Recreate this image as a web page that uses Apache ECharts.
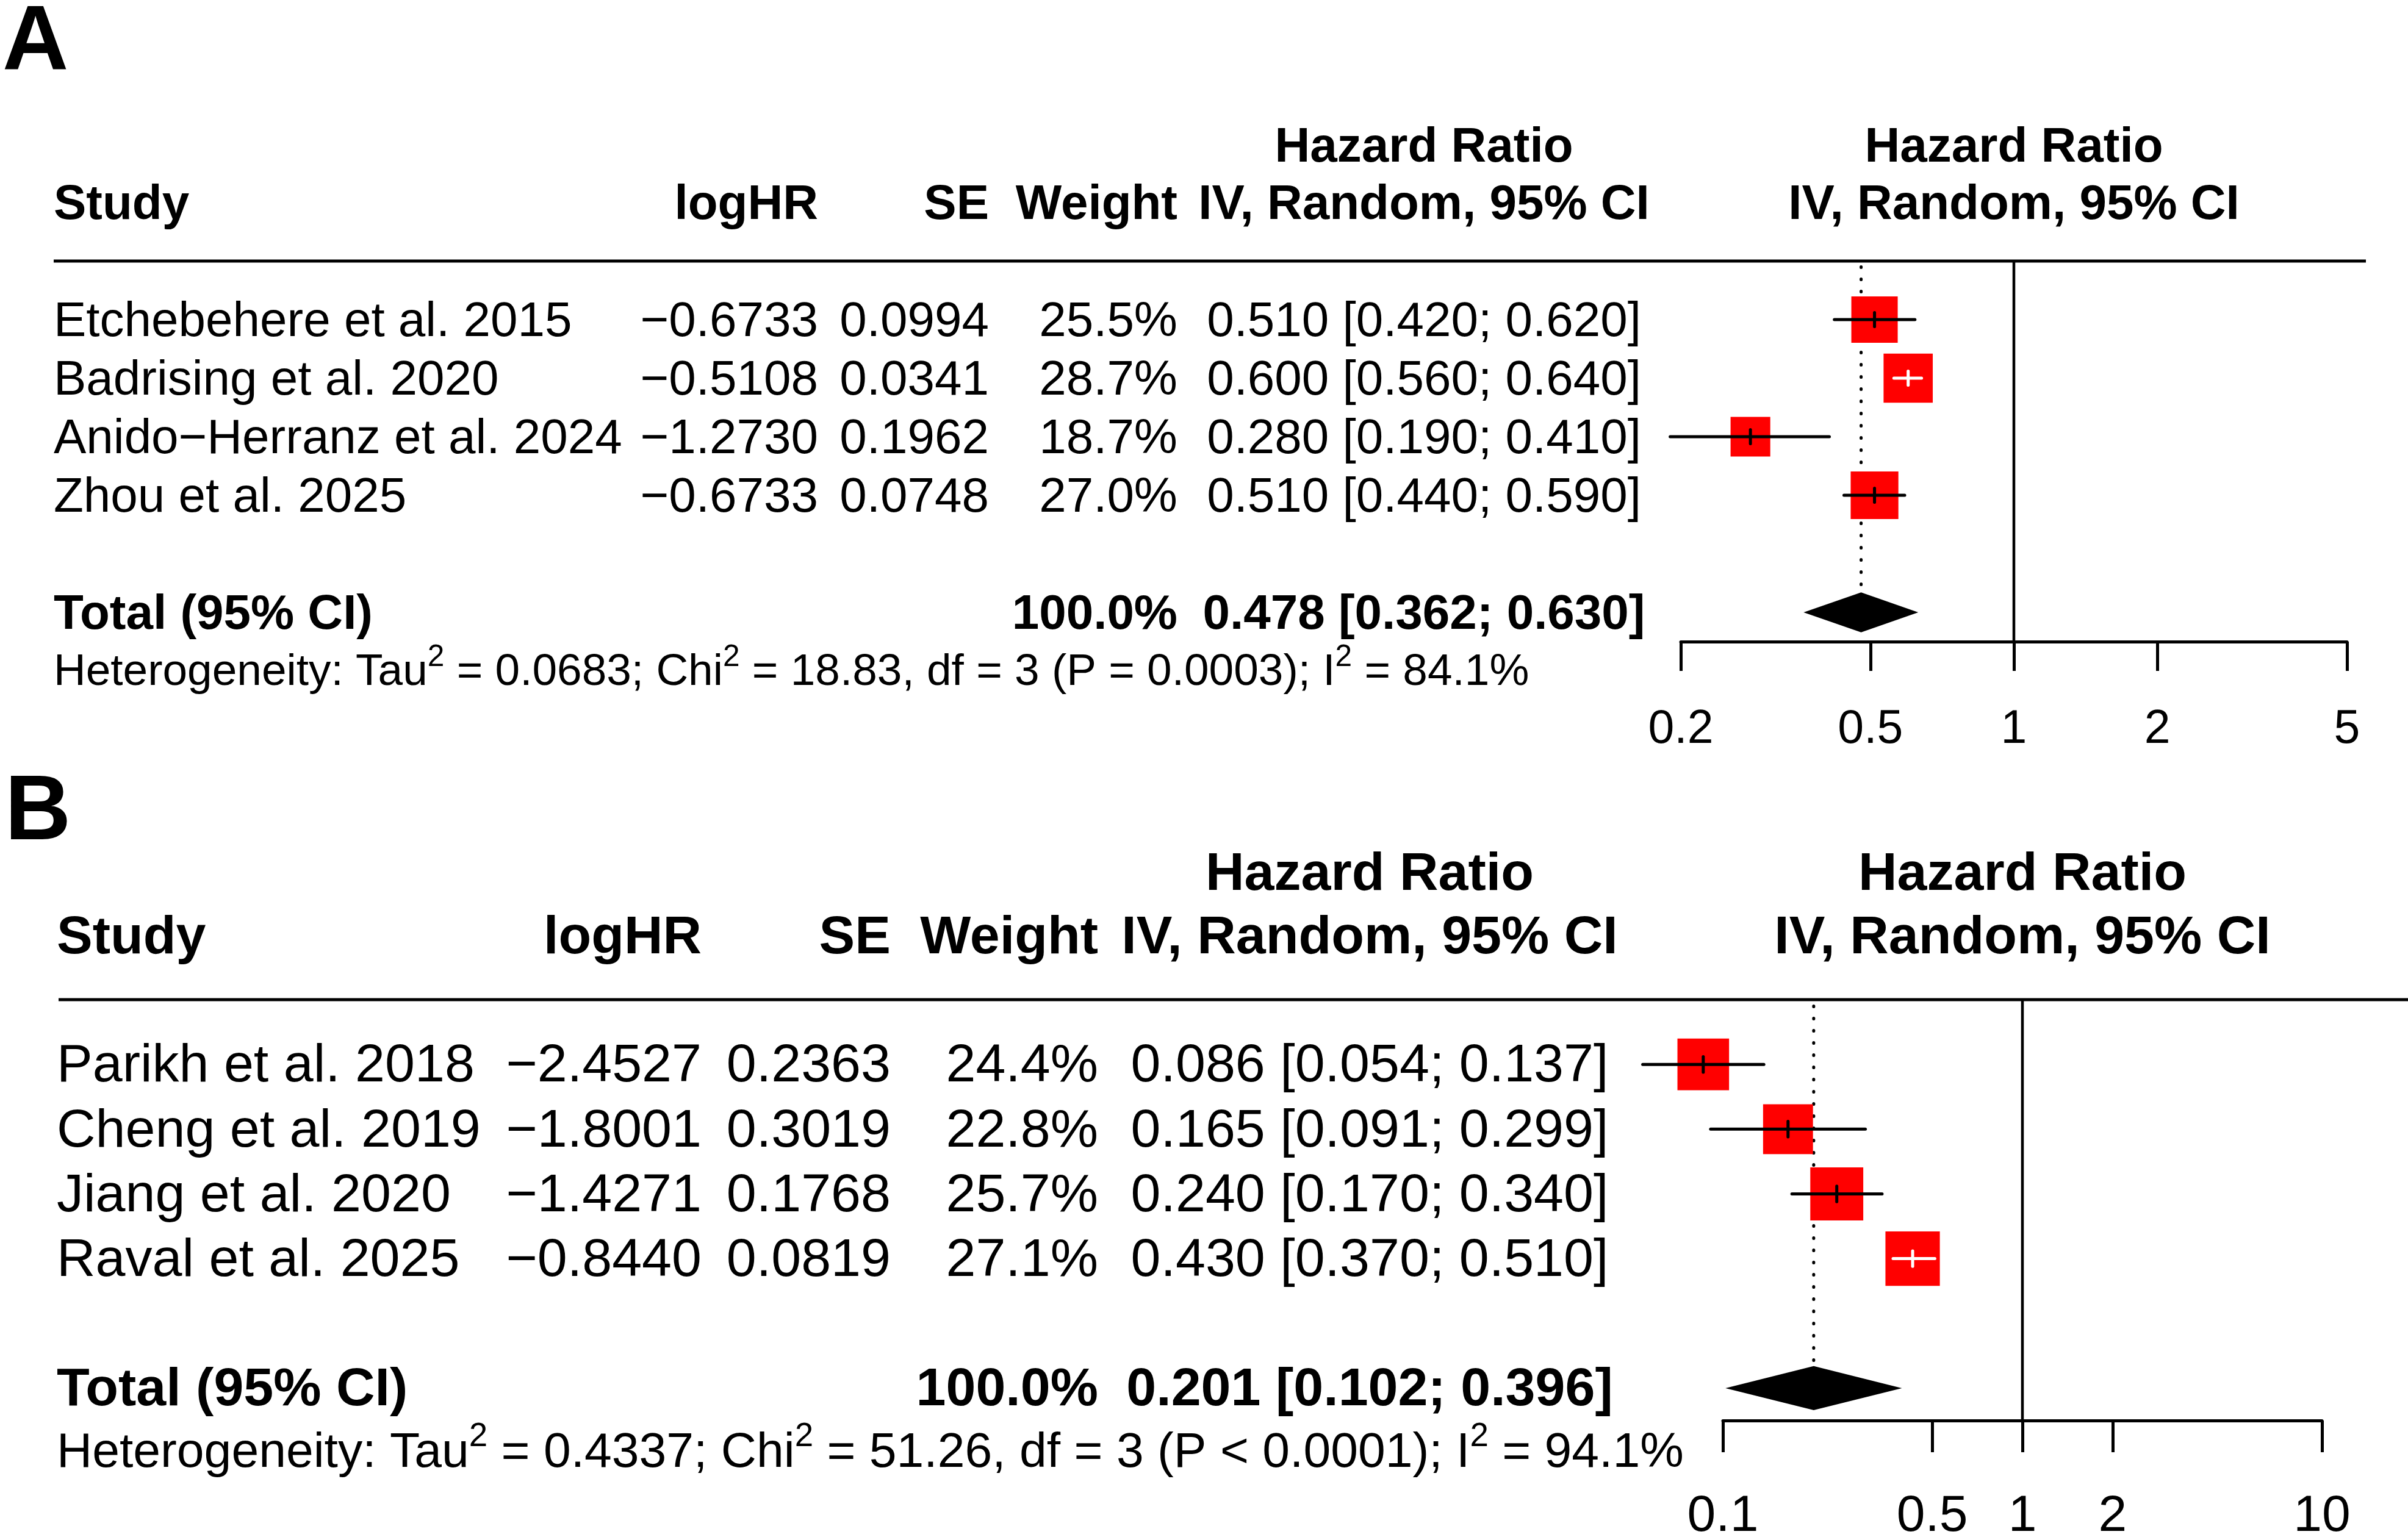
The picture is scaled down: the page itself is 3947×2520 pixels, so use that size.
<!DOCTYPE html>
<html>
<head>
<meta charset="utf-8">
<title>forest</title>
<script src="https://cdn.jsdelivr.net/npm/echarts@6.0.0/dist/echarts.min.js"></script>
<style>
    html, body { margin: 0; padding: 0; background: #fff; }
    #chart { width: 3947px; height: 2520px; }
</style>
</head>
<body>
<div id="chart"></div>
<script>
    // ---- panel A ----
    var studiesA = ['Etchebehere et al. 2015', 'Badrising et al. 2020', 'Anido\u2212Herranz et al. 2024', 'Zhou et al. 2025'];
    var logHRA = [-0.6733, -0.5108, -1.2730, -0.6733];
    var seA = [0.0994, 0.0341, 0.1962, 0.0748];
    var weightA = [25.5, 28.7, 18.7, 27.0];
    var hrA = [0.510, 0.600, 0.280, 0.510];
    var loA = [0.420, 0.560, 0.190, 0.440];
    var hiA = [0.620, 0.640, 0.410, 0.590];
    var pooledA = [0.478, 0.362, 0.630, 100.0];      // HR, lower, upper, total weight
    var hetA = [0.0683, 18.83, 3, '= 0.0003', 84.1]; // tau2, chi2, df, P, I2
    var ticksA = [0.2, 0.5, 1, 2, 5];

    // ---- panel B ----
    var studiesB = ['Parikh et al. 2018', 'Cheng et al. 2019', 'Jiang et al. 2020', 'Raval et al. 2025'];
    var logHRB = [-2.4527, -1.8001, -1.4271, -0.8440];
    var seB = [0.2363, 0.3019, 0.1768, 0.0819];
    var weightB = [24.4, 22.8, 25.7, 27.1];
    var hrB = [0.086, 0.165, 0.240, 0.430];
    var loB = [0.054, 0.091, 0.170, 0.370];
    var hiB = [0.137, 0.299, 0.340, 0.510];
    var pooledB = [0.201, 0.102, 0.396, 100.0];
    var hetB = [0.4337, 51.26, 3, '< 0.0001', 94.1];
    var ticksB = [0.1, 0.5, 1, 2, 10];

    var FONT = '"Liberation Sans", Arial, Helvetica, sans-serif';

    var panels = [
        {
            letter: 'A', studies: studiesA, logHR: logHRA, se: seA, weight: weightA,
            hr: hrA, lo: loA, hi: hiA, pooled: pooledA, het: hetA, ticks: ticksA,
            lay: {
                letterX: 4, letterY: 72, left: 2755, top: 428, width: 1092, height: 624,
                fs: 80, hetFs: 73, axisFs: 77, tickLen: 48, labelMargin: 106, dy: 5,
                colStudy: 88, colLogHR: 1341, colSE: 1621, colWeight: 1930, colHR: 2334,
                head1Y: 243, head2Y: 337, ruleX1: 88, ruleX2: 3878, hetY: 1103
            }
        },
        {
            letter: 'B', studies: studiesB, logHR: logHRB, se: seB, weight: weightB,
            hr: hrB, lo: loB, hi: hiB, pooled: pooledB, het: hetB, ticks: ticksB,
            lay: {
                letterX: 8, letterY: 1335, left: 2824, top: 1639, width: 982, height: 690,
                fs: 88, hetFs: 80.5, axisFs: 84, tickLen: 52, labelMargin: 116, dy: 4,
                colStudy: 93, colLogHR: 1150, colSE: 1460, colWeight: 1800, colHR: 2245,
                head1Y: 1435, head2Y: 1539, ruleX1: 96, ruleX2: 3947, hetY: 2383
            }
        }
    ];

    function lg(v) { return Math.log10(v); }
    function fmtHR(h, l, u) { return h.toFixed(3) + ' [' + l.toFixed(3) + '; ' + u.toFixed(3) + ']'; }
    function minus(s) { return s.replace('-', '\u2212'); }

    // study square + CI line
    function renderStudy(params, api) {
        var c = api.coord([api.value(0), api.value(4)]);
        var pl = api.coord([api.value(1), api.value(4)]);
        var ph = api.coord([api.value(2), api.value(4)]);
        var rowPx = api.coord([api.value(0), api.value(4) + 1])[1] - c[1];
        var side = 0.84 * rowPx * Math.sqrt(api.value(3) / api.value(5));
        var inside = pl[0] >= c[0] - side / 2 && ph[0] <= c[0] + side / 2;
        var col = inside ? '#ffffff' : '#000000';
        var tk = rowPx * 0.12;
        return {
            type: 'group',
            children: [
                {type: 'rect', shape: {x: c[0] - side / 2, y: c[1] - side / 2, width: side, height: side}, style: {fill: '#ff0000'}},
                {type: 'line', shape: {x1: pl[0], y1: c[1], x2: ph[0], y2: c[1]}, style: {stroke: col, lineWidth: 5, lineCap: 'round'}},
                {type: 'line', shape: {x1: c[0], y1: c[1] - tk, x2: c[0], y2: c[1] + tk}, style: {stroke: col, lineWidth: 5, lineCap: 'round'}}
            ]
        };
    }

    // pooled diamond
    function renderDiamond(params, api) {
        var row = api.value(3);
        var pl = api.coord([api.value(1), row]);
        var ph = api.coord([api.value(2), row]);
        var top = api.coord([api.value(0), row - 0.34]);
        var bot = api.coord([api.value(0), row + 0.34]);
        return {
            type: 'polygon',
            shape: {points: [[pl[0], pl[1]], top, [ph[0], ph[1]], bot]},
            style: {fill: '#000000'}
        };
    }

    var grids = [], xAxes = [], yAxes = [], series = [];
    panels.forEach(function (p, g) {
        var L = p.lay;
        var n = p.studies.length;
        var totalRow = n + 2;
        var wmax = Math.max.apply(null, p.weight);
        grids.push({left: L.left, top: L.top, width: L.width, height: L.height, containLabel: false, outerBoundsMode: 'none'});
        xAxes.push({
            type: 'value', gridIndex: g,
            min: lg(p.ticks[0]), max: lg(p.ticks[p.ticks.length - 1]),
            splitLine: {show: false},
            axisLine: {show: true, onZero: false, lineStyle: {color: '#000', width: 5}},
            axisTick: {show: true, length: L.tickLen, lineStyle: {color: '#000', width: 5}, customValues: p.ticks.map(lg)},
            axisLabel: {
                show: true, customValues: p.ticks.map(lg), margin: L.labelMargin,
                color: '#000', fontSize: L.axisFs, fontFamily: FONT, lineHeight: L.axisFs,
                formatter: function (v) { return String(+Math.pow(10, v).toPrecision(6)); }
            }
        });
        yAxes.push({type: 'value', gridIndex: g, inverse: true, min: 0, max: totalRow + 0.5, show: false});

        // reference line at HR = 1
        series.push({
            type: 'line', xAxisIndex: g, yAxisIndex: g, symbol: 'none', silent: true, z: 1,
            lineStyle: {color: '#000', width: 4.5},
            data: [[0, 0], [0, totalRow + 0.5]]
        });
        // dotted line at pooled estimate
        series.push({
            type: 'line', xAxisIndex: g, yAxisIndex: g, symbol: 'none', silent: true, z: 1,
            lineStyle: {color: '#000', width: 5, type: [1, 19], cap: 'round'},
            data: [[lg(p.pooled[0]), 0.1], [lg(p.pooled[0]), totalRow - 0.34]]
        });
        // studies
        series.push({
            type: 'custom', xAxisIndex: g, yAxisIndex: g, z: 3, silent: true, clip: false,
            renderItem: renderStudy,
            encode: {x: [0, 1, 2], y: 4},
            data: p.hr.map(function (h, i) {
                return [lg(h), lg(p.lo[i]), lg(p.hi[i]), p.weight[i], i + 1, wmax];
            })
        });
        // pooled
        series.push({
            type: 'custom', xAxisIndex: g, yAxisIndex: g, z: 3, silent: true, clip: false,
            renderItem: renderDiamond,
            encode: {x: [0, 1, 2], y: 3},
            data: [[lg(p.pooled[0]), lg(p.pooled[1]), lg(p.pooled[2]), totalRow]]
        });
    });

    var chart = echarts.init(document.getElementById('chart'), null, {renderer: 'canvas'});
    chart.setOption({
        backgroundColor: '#ffffff',
        animation: false,
        grid: grids,
        xAxis: xAxes,
        yAxis: yAxes,
        series: series
    });

    function txt(x, y, s, size, align, bold) {
        return {
            type: 'text', x: x, y: y, silent: true,
            style: {
                text: s, fill: '#000',
                fontSize: size, fontFamily: FONT, fontWeight: bold ? 'bold' : 'normal',
                align: align, verticalAlign: 'middle',
                textAlign: align, textVerticalAlign: 'middle'
            }
        };
    }

    var elements = [];
    panels.forEach(function (p, g) {
        var L = p.lay;
        var n = p.studies.length;
        var rowY = function (r) { return chart.convertToPixel({gridIndex: g}, [0, r])[1]; };
        var plotMid = L.left + L.width / 2;

        elements.push(txt(L.letterX, L.letterY, p.letter, 150, 'left', true));

        // header
        elements.push(txt(L.colHR, L.head1Y, 'Hazard Ratio', L.fs, 'center', true));
        elements.push(txt(plotMid, L.head1Y, 'Hazard Ratio', L.fs, 'center', true));
        elements.push(txt(L.colStudy, L.head2Y, 'Study', L.fs, 'left', true));
        elements.push(txt(L.colLogHR, L.head2Y, 'logHR', L.fs, 'right', true));
        elements.push(txt(L.colSE, L.head2Y, 'SE', L.fs, 'right', true));
        elements.push(txt(L.colWeight, L.head2Y, 'Weight', L.fs, 'right', true));
        elements.push(txt(L.colHR, L.head2Y, 'IV, Random, 95% CI', L.fs, 'center', true));
        elements.push(txt(plotMid, L.head2Y, 'IV, Random, 95% CI', L.fs, 'center', true));
        elements.push({
            type: 'line', silent: true,
            shape: {x1: L.ruleX1, y1: rowY(0), x2: L.ruleX2, y2: rowY(0)},
            style: {stroke: '#000', lineWidth: 5}
        });

        // study rows
        p.studies.forEach(function (s, i) {
            var y = rowY(i + 1) + L.dy;
            elements.push(txt(L.colStudy, y, s, L.fs, 'left', false));
            elements.push(txt(L.colLogHR, y, minus(p.logHR[i].toFixed(4)), L.fs, 'right', false));
            elements.push(txt(L.colSE, y, p.se[i].toFixed(4), L.fs, 'right', false));
            elements.push(txt(L.colWeight, y, p.weight[i].toFixed(1) + '%', L.fs, 'right', false));
            elements.push(txt(L.colHR, y, fmtHR(p.hr[i], p.lo[i], p.hi[i]), L.fs, 'center', false));
        });

        // total row
        var ty = rowY(n + 2) + L.dy;
        elements.push(txt(L.colStudy, ty, 'Total (95% CI)', L.fs, 'left', true));
        elements.push(txt(L.colWeight, ty, p.pooled[3].toFixed(1) + '%', L.fs, 'right', true));
        elements.push(txt(L.colHR, ty, fmtHR(p.pooled[0], p.pooled[1], p.pooled[2]), L.fs, 'center', true));

        // heterogeneity
        var h = p.het;
        var hetText = 'Heterogeneity: Tau{s|2} = ' + h[0].toFixed(4) + '; Chi{s|2} = ' + h[1].toFixed(2) +
            ', df = ' + h[2] + ' (P ' + h[3] + '); I{s|2} = ' + h[4].toFixed(1) + '%';
        elements.push({
            type: 'text', x: L.colStudy, y: L.hetY, silent: true,
            style: {
                text: hetText, fill: '#000',
                fontSize: L.hetFs, fontFamily: FONT, lineHeight: L.hetFs * 1.35,
                align: 'left', verticalAlign: 'middle', textAlign: 'left', textVerticalAlign: 'middle',
                rich: {
                    s: {fontSize: L.hetFs * 0.68, fontFamily: FONT, fill: '#000', lineHeight: L.hetFs * 0.66, verticalAlign: 'top'}
                }
            }
        });
    });

    chart.setOption({graphic: {elements: elements}});
</script>
</body>
</html>
